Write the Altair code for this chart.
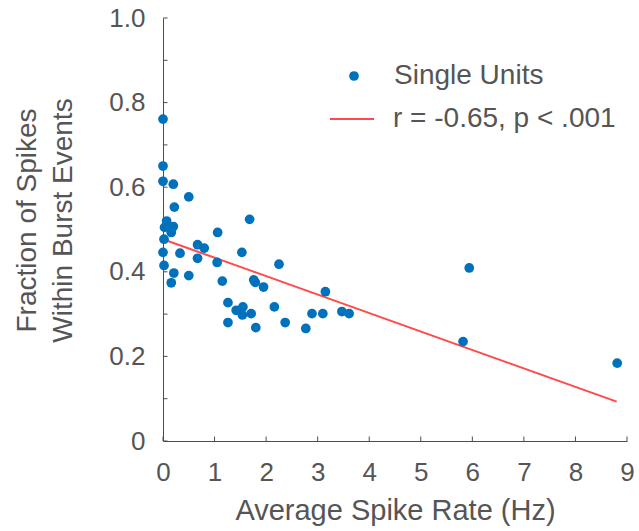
import altair as alt
import pandas as pd

# Single-unit data
rate = [0.00, 0.00, 0.00, 0.20, 0.50, 0.22, 0.07, 0.20, 0.03, 0.16,
        1.68, 1.06, 0.02, 0.67, 0.80, 0.00, 0.33, 0.67, 1.53, 0.02,
        1.05, 2.25, 0.21, 0.16, 0.50, 1.15, 1.76, 1.79, 1.95, 3.15,
        1.26, 1.42, 1.55, 1.54, 1.71, 2.16, 2.89, 3.10, 3.47, 3.61,
        1.26, 1.80, 2.37, 2.77, 5.94, 5.82, 8.81]
frac = [0.761, 0.650, 0.614, 0.607, 0.577, 0.553, 0.520, 0.507, 0.505, 0.493,
        0.524, 0.493, 0.477, 0.464, 0.456, 0.446, 0.444, 0.432, 0.446, 0.415,
        0.422, 0.418, 0.397, 0.374, 0.391, 0.378, 0.381, 0.375, 0.364, 0.353,
        0.327, 0.309, 0.317, 0.298, 0.301, 0.317, 0.301, 0.301, 0.306, 0.301,
        0.280, 0.268, 0.280, 0.266, 0.409, 0.235, 0.184]

fit_x = [0.0, 8.8]
fit_y = [0.477, 0.093]

x_tick_values = [0, 1, 2, 3, 4, 5, 6, 7, 8, 9]
y_tick_values = [0.0, 0.1, 0.2, 0.3, 0.4, 0.5, 0.6, 0.7, 0.8, 0.9, 1.0]

point_label = "Single Units"
line_label = "r = -0.65, p < .001"

pts = pd.DataFrame({"rate": rate, "frac": frac, "series": point_label})
fit = pd.DataFrame({"rate": fit_x, "frac": fit_y, "series": line_label})
xt = pd.DataFrame({"t": x_tick_values})
yt = pd.DataFrame({"t": y_tick_values})

FONT = "Liberation Sans"
TXT = "#555555"
AX = "#4d4d4d"

xscale = alt.Scale(domain=[0, 9], nice=False, zero=False)
yscale = alt.Scale(domain=[0, 1], nice=False, zero=False)

xaxis = alt.Axis(values=x_tick_values, tickSize=0, grid=False, domainColor=AX,
                 domainWidth=1, labelFontSize=26, labelColor=TXT, labelFont=FONT,
                 labelPadding=18, title="Average Spike Rate (Hz)", titleFontSize=29,
                 titleFont=FONT, titleColor=TXT, titleFontWeight="normal",
                 titlePadding=11, labelFlush=False)
yaxis = alt.Axis(values=y_tick_values, tickSize=0, grid=False, domainColor=AX,
                 domainWidth=1, labelFontSize=26, labelColor=TXT, labelFont=FONT,
                 labelPadding=18,
                 labelExpr="round(datum.value*10) % 2 == 0 ? (datum.value == 0 ? '0' : format(datum.value, '.1f')) : ''",
                 title=["Fraction of Spikes", "Within Burst Events"], titleFontSize=28,
                 titleLineHeight=36, titleX=-128, titleY=202, titleAngle=270,
                 titleAlign="center", titleBaseline="alphabetic",
                 titleFont=FONT, titleColor=TXT, titleFontWeight="normal",
                 labelFlush=False, labelBaseline="middle")

points = alt.Chart(pts).mark_circle(size=95, opacity=1).encode(
    x=alt.X("rate:Q", scale=xscale, axis=xaxis),
    y=alt.Y("frac:Q", scale=yscale, axis=yaxis),
    color=alt.Color("series:N",
                    scale=alt.Scale(domain=[point_label], range=["#0072BD"]),
                    legend=alt.Legend(orient="none", legendX=177, legendY=44, title=None,
                                      padding=0, symbolType="circle", symbolSize=95,
                                      symbolOpacity=1, labelOffset=26, labelLimit=0,
                                      labelFontSize=28, labelFont=FONT, labelColor=TXT)),
)

line = alt.Chart(fit).mark_line(strokeWidth=2).encode(
    x=alt.X("rate:Q", scale=xscale),
    y=alt.Y("frac:Q", scale=yscale),
    color=alt.Color("series:N",
                    scale=alt.Scale(domain=[line_label], range=["#FF4A4A"]),
                    legend=alt.Legend(orient="none", legendX=166, legendY=78, title=None,
                                      padding=0, symbolType="stroke", symbolSize=1936,
                                      symbolStrokeWidth=2, labelOffset=18, labelLimit=0,
                                      labelFontSize=28, labelFont=FONT, labelColor=TXT)),
)

xticks = alt.Chart(xt).mark_rule(color=AX, strokeWidth=1).encode(
    x=alt.X("t:Q", scale=xscale), y=alt.value(423), y2=alt.value(418.5))
yticks = alt.Chart(yt).mark_rule(color=AX, strokeWidth=1).encode(
    y=alt.Y("t:Q", scale=yscale), x=alt.value(0), x2=alt.value(4.5))

chart = alt.layer(xticks, yticks, line, points).resolve_scale(color="independent").properties(
    width=464, height=423,
    autosize=alt.AutoSizeParams(type="none"),
    padding={"left": 163, "top": 18, "right": 12, "bottom": 90},
    background="white",
).configure_view(stroke=None)

chart.save("out.html", embed_options={"renderer": "svg", "actions": False})
